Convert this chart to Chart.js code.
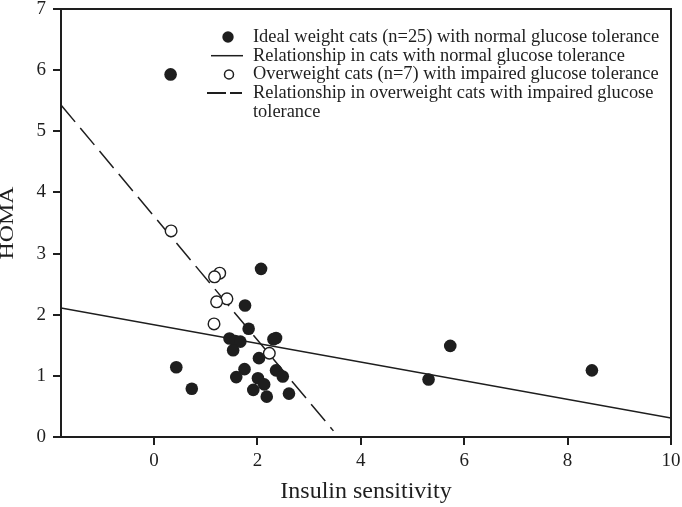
<!doctype html>
<html lang="en">
  <head>
    <meta charset="utf-8">
    <title>HOMA vs insulin sensitivity</title>
    <style>
      * {
        margin: 0;
        padding: 0;
      }
      body {
        background: white;
      }
      .chartBox {
        width: 682px;
        height: 507px;
      }
    </style>
  </head>
  <body>
    <div class="chartBox">
      <canvas id="myChart"></canvas>
    </div>
    <script src="https://cdn.jsdelivr.net/npm/chart.js"></script>
    <script>
    // setup
    const idealX = [0.32, 0.43, 0.73, 2.07, 1.76, 1.83, 1.46, 1.57, 1.67, 1.53, 2.36, 2.31, 2.03,
                    1.75, 1.59, 2.01, 2.13, 1.92, 2.18, 2.36, 2.49, 2.61, 5.31, 5.73, 8.47];
    const idealY = [5.93, 1.14, 0.79, 2.75, 2.15, 1.77, 1.61, 1.57, 1.56, 1.42, 1.62, 1.60, 1.29,
                    1.11, 0.98, 0.96, 0.86, 0.77, 0.66, 1.09, 0.99, 0.71, 0.94, 1.49, 1.09];
    const overX = [0.33, 1.27, 1.17, 1.41, 1.21, 1.16, 2.23];
    const overY = [3.37, 2.68, 2.62, 2.26, 2.21, 1.85, 1.37];
    // regression lines, end points
    const normalFitX = [-1.8, 10];
    const normalFitY = [2.11, 0.31];
    const overFitX = [-1.8, 3.47];
    const overFitY = [5.43, 0.10];
    const xTicks = [0, 2, 4, 6, 8, 10];
    const yTicks = [0, 1, 2, 3, 4, 5, 6, 7];

    const legendLabels = [
      ['Ideal weight cats (n=25) with normal glucose tolerance'],
      ['Relationship in cats with normal glucose tolerance'],
      ['Overweight cats (n=7) with impaired glucose tolerance'],
      ['Relationship in overweight cats with impaired glucose', 'tolerance']
    ];

    const ink = '#1e1e1e';
    const serif = "'Liberation Serif', 'Times New Roman', serif";

    const pts = (xs, ys) => xs.map((x, i) => ({ x: x, y: ys[i] }));

    const data = {
      datasets: [{
        label: legendLabels[0][0],
        data: pts(idealX, idealY),
        backgroundColor: ink,
        borderColor: ink,
        pointRadius: 6.3,
        borderWidth: 0,
        order: 0
      }, {
        label: legendLabels[2][0],
        data: pts(overX, overY),
        backgroundColor: 'white',
        borderColor: ink,
        pointRadius: 5.8,
        borderWidth: 1.4,
        order: 0
      }, {
        type: 'line',
        label: legendLabels[1][0],
        data: pts(normalFitX, normalFitY),
        borderColor: ink,
        borderWidth: 1.5,
        pointRadius: 0,
        order: 1
      }, {
        type: 'line',
        label: legendLabels[3].join(' '),
        data: pts(overFitX, overFitY),
        borderColor: ink,
        borderWidth: 1.5,
        borderDash: [22, 8],
        pointRadius: 0,
        order: 1
      }]
    };

    // frame, legend and rotated y title
    const extras = {
      id: 'extras',
      afterDraw(chart) {
        const ctx = chart.ctx;
        const a = chart.chartArea;
        ctx.save();
        ctx.strokeStyle = ink;
        ctx.lineWidth = 2;
        ctx.strokeRect(a.left, a.top, a.right - a.left, a.bottom - a.top);

        // legend
        const mx = 228, tx = 253, y0 = 37, step = 18.7;
        ctx.fillStyle = ink;
        ctx.font = '18.4px ' + serif;
        ctx.textBaseline = 'middle';
        ctx.textAlign = 'left';
        let row = 0;
        legendLabels.forEach((lines, i) => {
          const y = y0 + row * step;
          ctx.lineWidth = 1.5;
          ctx.setLineDash([]);
          if (i === 0) {
            ctx.beginPath();
            ctx.arc(mx, y, 5.7, 0, Math.PI * 2);
            ctx.fill();
          } else if (i === 1) {
            ctx.beginPath();
            ctx.moveTo(mx - 17, y);
            ctx.lineTo(mx + 15, y);
            ctx.stroke();
          } else if (i === 2) {
            ctx.beginPath();
            ctx.arc(mx + 1, y, 4.5, 0, Math.PI * 2);
            ctx.stroke();
          } else {
            ctx.lineWidth = 2;
            ctx.setLineDash([19, 4]);
            ctx.beginPath();
            ctx.moveTo(mx - 21, y);
            ctx.lineTo(mx + 14, y);
            ctx.stroke();
          }
          lines.forEach(t => {
            ctx.fillText(t, tx, y0 + row * step);
            row++;
          });
        });

        // y axis title, the original lettering is wide
        ctx.setLineDash([]);
        ctx.font = '18px ' + serif;
        ctx.textAlign = 'center';
        const w = ctx.measureText('HOMA').width;
        ctx.translate(8.5, (a.top + a.bottom) / 2);
        ctx.rotate(-Math.PI / 2);
        ctx.scale(73 / w, 1);
        ctx.fillText('HOMA', 0, 0);
        ctx.restore();
      }
    };

    // config
    const config = {
      type: 'scatter',
      data,
      options: {
        responsive: true,
        maintainAspectRatio: false,
        animation: false,
        layout: {
          padding: { top: 9, right: 11, left: 0, bottom: 0 }
        },
        plugins: {
          legend: { display: false },
          tooltip: { enabled: false }
        },
        scales: {
          x: {
            type: 'linear',
            min: -1.8,
            max: 10,
            afterBuildTicks: s => { s.ticks = xTicks.map(v => ({ value: v })); },
            afterFit: s => { s.height = 70; s.paddingLeft = 0; s.paddingRight = 0; },
            grid: { drawOnChartArea: false, tickLength: 8, color: ink, lineWidth: 2 },
            border: { color: ink, width: 2 },
            ticks: {
              color: ink,
              padding: 7,
              font: { family: serif, size: 19, lineHeight: 1 }
            },
            title: {
              display: true,
              text: 'Insulin sensitivity',
              color: ink,
              font: { family: serif, size: 24 },
              padding: { top: 0, bottom: 1 }
            }
          },
          y: {
            type: 'linear',
            min: 0,
            max: 7,
            afterBuildTicks: s => { s.ticks = yTicks.map(v => ({ value: v })); },
            afterFit: s => { s.width = 61; s.paddingTop = 0; s.paddingBottom = 0; },
            grid: { drawOnChartArea: false, tickLength: 8, color: ink, lineWidth: 2 },
            border: { color: ink, width: 2 },
            ticks: {
              color: ink,
              padding: 7,
              font: { family: serif, size: 19, lineHeight: 1 }
            }
          }
        }
      },
      plugins: [extras]
    };

    // render init block
    const myChart = new Chart(
      document.getElementById('myChart'),
      config
    );
    </script>
  </body>
</html>
